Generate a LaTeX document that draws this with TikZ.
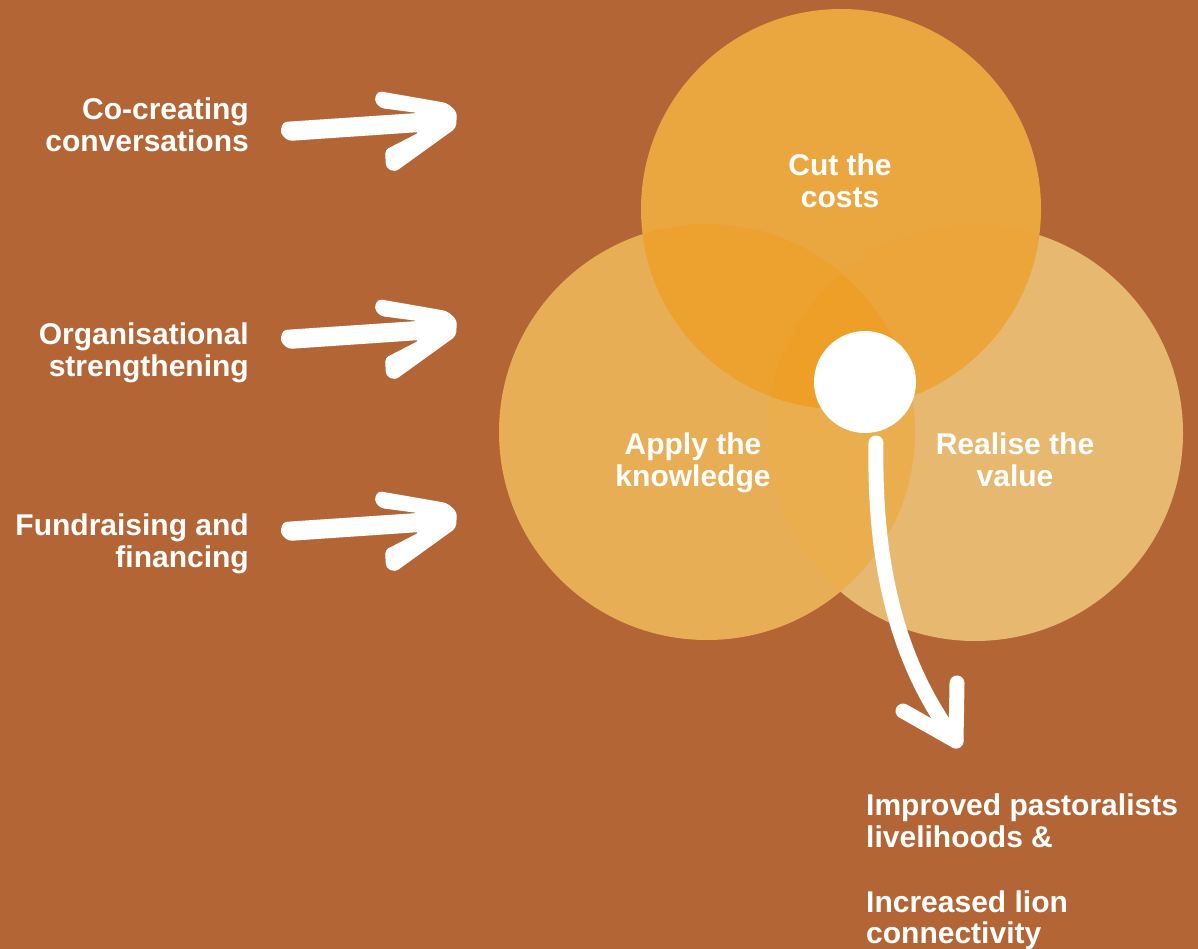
\documentclass[tikz,border=0pt]{standalone}
\usepackage{fontspec}
\setmainfont{Liberation Sans}
\definecolor{bg}{HTML}{B36535}
\definecolor{ctop}{HTML}{EAA73F}
\definecolor{cleft}{HTML}{E8AE56}
\definecolor{cright}{HTML}{E7B870}
\definecolor{clr}{HTML}{EAAE4F}
\definecolor{ctl}{HTML}{EDA12E}
\definecolor{ctr}{HTML}{EBA53B}
\definecolor{cmid}{HTML}{EE9F28}
\begin{document}
\begin{tikzpicture}[x=1pt,y=-1pt,
  lbl/.style={font=\bfseries\fontsize{30}{32}\selectfont, text=white, inner sep=0pt},
  sketch/.style={fill=white, rounded corners=4pt},
  flow/.style={draw=white, line width=15pt, line cap=round, line join=round}]
\useasboundingbox (0,0) rectangle (1198,949);
\fill[bg] (0,0) rectangle (1198,949);

% circles
\def\Lc{(707,432) circle (208pt)}
\def\Rc{(975,433) circle (208pt)}
\def\Tc{(841,209) circle (200pt)}
\fill[cleft] \Lc;
\fill[cright] \Rc;
\begin{scope}\clip \Lc; \fill[clr] \Rc; \end{scope}
\fill[ctop] \Tc;
\begin{scope}\clip \Tc; \fill[ctl] \Lc; \end{scope}
\begin{scope}\clip \Tc; \fill[ctr] \Rc; \end{scope}
\begin{scope}\clip \Tc; \clip \Lc; \fill[cmid] \Rc; \end{scope}

% circle labels
\node[lbl, anchor=base] (cut1) at (840,176) {Cut the};
\node[lbl, anchor=base] (cut2) at (840,208) {costs};
\node[lbl, anchor=base] (app1) at (693,454) {Apply the};
\node[lbl, anchor=base] (app2) at (693,486) {knowledge};
\node[lbl, anchor=base] (rea1) at (1015,454) {Realise the};
\node[lbl, anchor=base] (rea2) at (1015,486) {value};

% left labels
\node[lbl, anchor=base east] (co1) at (249,120) {Co-creating};
\node[lbl, anchor=base east] (co2) at (249,152) {conversations};
\node[lbl, anchor=base east] (or1) at (249,344) {Organisational};
\node[lbl, anchor=base east] (or2) at (249,376) {strengthening};
\node[lbl, anchor=base east] (fu1) at (249,535) {Fundraising and};
\node[lbl, anchor=base east] (fu2) at (249,567) {financing};

% sketchy arrows
\foreach \dy in {0,208,400}{
  \begin{scope}[shift={(0,\dy)}]
  \fill[sketch] (283,122) -- (418,113) -- (380,108) -- (374,100) -- (378,91)
    -- (447,103) -- (457,112) -- (456,128) -- (395,172) -- (386,168)
    -- (385,150) -- (420,132) -- (288,141) -- (280,133) -- cycle;
  \end{scope}
}

% centre dot and outcome arrow
\node[circle, fill=white, minimum size=102pt, inner sep=0pt] (dot) at (865,382) {};
\coordinate (dstart) at (876,443);
\coordinate (dend) at (956,741);
\coordinate (hl) at (903,711);
\coordinate (hr) at (957,683);
\draw[flow] (dstart) .. controls (874,560) and (895,660) .. (dend);
\draw[flow] (hl) -- (dend) -- (hr);

% outcome text
\node[lbl, anchor=base west] (out1) at (866,815) {Improved pastoralists};
\node[lbl, anchor=base west] (out2) at (866,847) {livelihoods \&};
\node[lbl, anchor=base west] (out3) at (866,912) {Increased lion};
\node[lbl, anchor=base west] (out4) at (866,943) {connectivity};
\end{tikzpicture}
\end{document}
